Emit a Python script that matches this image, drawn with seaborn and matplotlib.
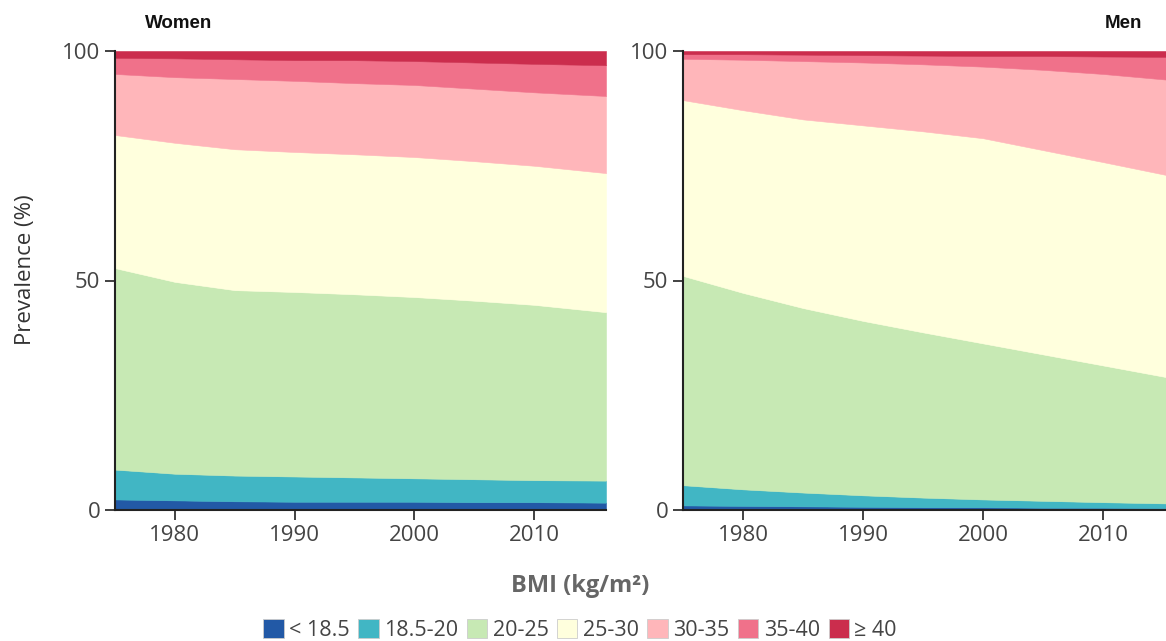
import numpy as np
import pandas as pd
import matplotlib
matplotlib.use("Agg")
import matplotlib.pyplot as plt
import seaborn as sns
from matplotlib.patches import Patch

# ---------------- data ----------------
years = [1975, 1980, 1985, 1990, 1995, 2000, 2005, 2010, 2016]
categories = ["< 18.5", "18.5-20", "20-25", "25-30", "30-35", "35-40", "≥ 40"]
colors = ["#2259a6", "#41b6c4", "#c7e9b4", "#ffffdd", "#ffb6ba", "#f0718a", "#cb2d4d"]

women_lt185 = [2.3, 2.1, 1.9, 1.8, 1.8, 1.8, 1.7, 1.7, 1.6]
women_185_20 = [6.5, 5.8, 5.6, 5.5, 5.3, 5.1, 5.0, 4.8, 4.8]
women_20_25 = [43.9, 41.8, 40.4, 40.2, 39.9, 39.5, 38.9, 38.2, 36.7]
women_25_30 = [29.0, 30.3, 30.7, 30.5, 30.5, 30.5, 30.4, 30.3, 30.3]
women_30_35 = [13.3, 14.3, 15.3, 15.5, 15.5, 15.7, 15.8, 16.0, 16.8]
women_35_40 = [3.5, 4.1, 4.3, 4.5, 5.0, 5.2, 5.7, 6.2, 6.7]
women_ge40 = [1.5, 1.6, 1.8, 2.0, 2.0, 2.2, 2.5, 2.8, 3.1]

men_lt185 = [1.0, 0.9, 0.8, 0.7, 0.6, 0.6, 0.5, 0.5, 0.4]
men_185_20 = [4.4, 3.6, 3.0, 2.5, 2.1, 1.7, 1.5, 1.2, 1.0]
men_20_25 = [45.6, 42.8, 40.2, 38.0, 36.0, 34.0, 31.9, 29.8, 27.2]
men_25_30 = [38.3, 39.8, 41.1, 42.6, 43.8, 44.7, 44.5, 44.3, 44.0]
men_30_35 = [9.0, 11.0, 12.7, 13.7, 14.6, 15.6, 17.5, 19.2, 21.0]
men_35_40 = [1.0, 1.2, 1.4, 1.6, 1.9, 2.3, 3.0, 3.8, 5.1]
men_ge40 = [0.7, 0.7, 0.8, 0.9, 1.0, 1.1, 1.1, 1.2, 1.3]

x_ticks = [1980, 1990, 2000, 2010]
y_ticks = [0, 50, 100]

women = pd.DataFrame(dict(zip(categories, [women_lt185, women_185_20, women_20_25,
                                          women_25_30, women_30_35, women_35_40, women_ge40])),
                     index=years)
men = pd.DataFrame(dict(zip(categories, [men_lt185, men_185_20, men_20_25,
                                        men_25_30, men_30_35, men_35_40, men_ge40])),
                   index=years)

# ---------------- style ----------------
sns.set_theme(style="ticks")
plt.rcParams["font.family"] = ["Open Sans", "DejaVu Sans"]

W, H = 1166, 641
fig = plt.figure(figsize=(W / 100, H / 100), dpi=100)
axW = fig.add_axes([115 / W, (H - 510) / H, 491 / W, 459 / H])
axM = fig.add_axes([683 / W, (H - 510) / H, 492 / W, 459 / H])

for ax, df in [(axW, women), (axM, men)]:
    ax.stackplot(df.index, *[df[c].values for c in categories], colors=colors,
                 edgecolor="face", linewidth=0.4)
    ax.set_xlim(1975, 2016)
    ax.set_ylim(0, 100)
    ax.set_xticks(x_ticks)
    ax.set_yticks(y_ticks)
    sns.despine(ax=ax)
    for s in ["left", "bottom"]:
        ax.spines[s].set_color("#222222")
        ax.spines[s].set_linewidth(1.5)
    ax.tick_params(direction="out", length=7.5, width=1.3, color="#333333",
                   labelsize=16, labelcolor="#444444", pad=3)
    ax.grid(False)
    ax.set_xlabel("")
    ax.set_ylabel("")

fig.text(145 / W, 1 - 23 / H, "Women", ha="left", va="center", fontsize=13.5,
         fontweight="bold", family=["Liberation Sans", "DejaVu Sans"], color="#111111")
fig.text(1142 / W, 1 - 23 / H, "Men", ha="right", va="center", fontsize=13.5,
         fontweight="bold", family=["Liberation Sans", "DejaVu Sans"], color="#111111")

fig.text(26 / W, 1 - 270 / H, "Prevalence (%)", rotation=90, ha="center", va="center",
         fontsize=16, color="#333333")

fig.text(580 / W, 1 - 586 / H, "BMI (kg/m²)", ha="center", va="center", fontsize=17,
         fontweight="bold", color="#666666")

handles = [Patch(facecolor=c, edgecolor="#cccccc", linewidth=0.6) for c in colors]
leg = fig.legend(handles, categories, loc="center", bbox_to_anchor=(580 / W, 1 - 630 / H),
                 ncol=7, frameon=False, handlelength=0.95, handleheight=0.95,
                 handletextpad=0.25, columnspacing=0.4, fontsize=15.5, borderaxespad=0)
for t in leg.get_texts():
    t.set_color("#444444")

fig.savefig("out.png", dpi=100)
